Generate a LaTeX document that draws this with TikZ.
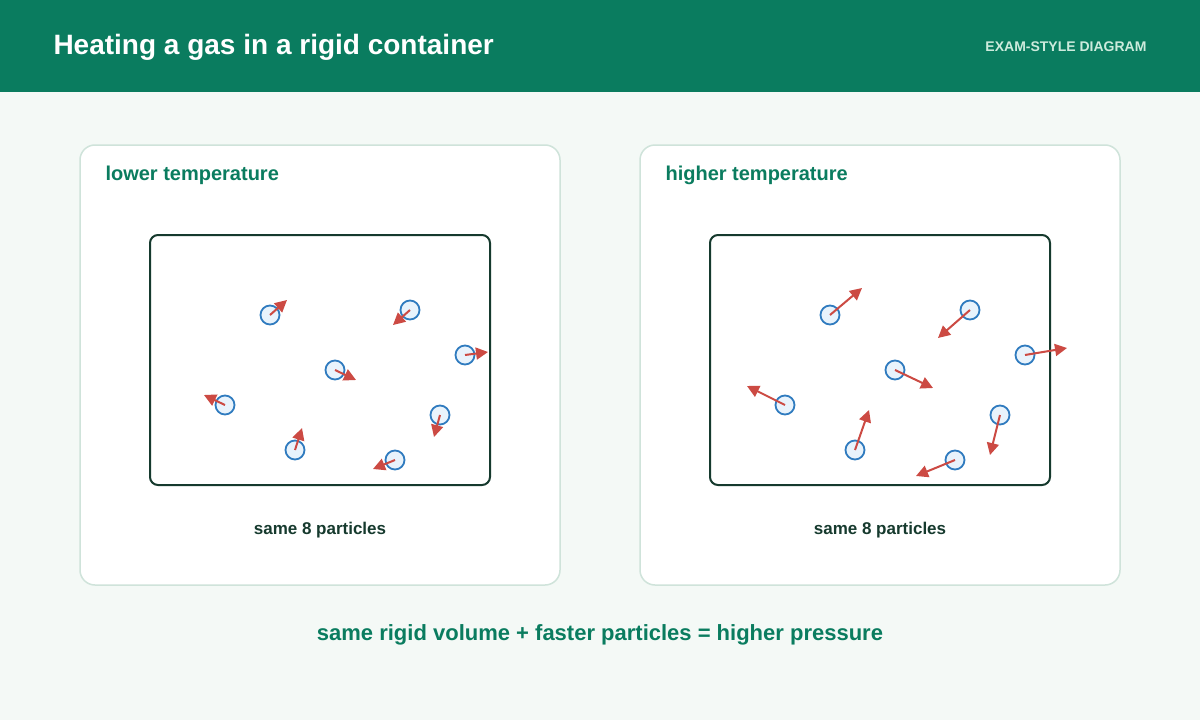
\documentclass[tikz,border=0pt]{standalone}
\usepackage{fontspec}
\setmainfont{Liberation Sans}
\usetikzlibrary{arrows.meta}
\definecolor{hdr}{HTML}{0A7C5F}
\definecolor{bg}{HTML}{F4F9F6}
\definecolor{pan}{HTML}{CFE3DA}
\definecolor{dk}{HTML}{163A2E}
\definecolor{pfill}{HTML}{E8F3FC}
\definecolor{pline}{HTML}{2F7BBF}
\definecolor{arr}{HTML}{CC4A43}
\definecolor{sub}{HTML}{CDEBDD}
\begin{document}
\begin{tikzpicture}[x=1pt,y=-1pt,
  panel/.style={draw=pan,line width=1.5pt,fill=white,rounded corners=15pt},
  box/.style={draw=dk,line width=2pt,rounded corners=8pt},
  part/.style={circle,draw=pline,fill=pfill,line width=1.8pt,minimum size=19pt,inner sep=0pt},
  vel/.style={draw=arr,line width=2pt,-{Triangle[length=12pt,width=12pt]}},
  ttl/.style={font=\bfseries\fontsize{20}{24}\selectfont,text=hdr,anchor=west},
  captxt/.style={font=\bfseries\fontsize{17}{20}\selectfont,text=dk}]
\useasboundingbox (0,0) rectangle (1200,720);
\fill[bg] (0,0) rectangle (1200,720);
\fill[hdr] (0,0) rectangle (1200,92);
\node[anchor=west,text=white,font=\bfseries\fontsize{28}{32}\selectfont] (title) at (50,47) {Heating a gas in a rigid container};
\node[anchor=east,text=sub,font=\bfseries\fontsize{14}{16}\selectfont] (tag) at (1150,47) {EXAM-STYLE DIAGRAM};
\draw[panel] (80,145) rectangle (560,585);
\draw[panel] (640,145) rectangle (1120,585);
\node[ttl] (lt) at (102,175) {lower temperature};
\node[ttl] (ht) at (662,175) {higher temperature};
\draw[box] (150,235) rectangle (490,485);
\draw[box] (710,235) rectangle (1050,485);
\node[captxt] (lc) at (320,530) {same 8 particles};
\node[captxt] (hc) at (880,530) {same 8 particles};
\node[font=\bfseries\fontsize{22}{26}\selectfont,text=hdr] (law) at (600,635) {same rigid volume + faster particles = higher pressure};
% left particles
\foreach \n/\cx/\cy/\tx/\ty in {1/270/315/287/300,2/410/310/393/325,3/465/355/488/352,4/335/370/356/380,5/225/405/204/395,6/440/415/434/437,7/295/450/302/428,8/395/460/373/469}{
  \node[part] (L\n) at (\cx,\cy) {};
  \coordinate (LT\n) at (\tx,\ty);
  \draw[vel] (L\n.center) -- (LT\n);
}
% right particles
\foreach \n/\cx/\cy/\tx/\ty in {1/830/315/862/288,2/970/310/938/338,3/1025/355/1067/348,4/895/370/933/388,5/785/405/747/386,6/1000/415/990/455,7/855/450/869/410,8/955/460/916/476}{
  \node[part] (R\n) at (\cx,\cy) {};
  \coordinate (RT\n) at (\tx,\ty);
  \draw[vel] (R\n.center) -- (RT\n);
}
\end{tikzpicture}
\end{document}
